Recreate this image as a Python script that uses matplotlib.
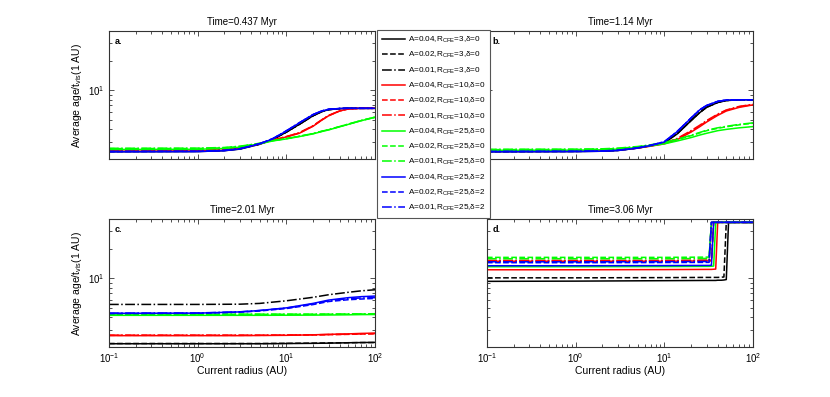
import matplotlib
matplotlib.use("Agg")
import matplotlib.pyplot as plt
from matplotlib.ticker import LogLocator, NullFormatter

plt.rcParams['font.family'] = ['Liberation Sans', 'DejaVu Sans']
plt.rcParams['mathtext.fontset'] = 'custom'
plt.rcParams['mathtext.rm'] = 'Liberation Sans'
plt.rcParams['mathtext.it'] = 'Liberation Sans:italic'

# legend labels / styles (12 runs)
labels = [
    "A=0.04,R$_{\\mathrm{CFE}}$=3,δ=0", "A=0.02,R$_{\\mathrm{CFE}}$=3,δ=0", "A=0.01,R$_{\\mathrm{CFE}}$=3,δ=0",
    "A=0.04,R$_{\\mathrm{CFE}}$=10,δ=0", "A=0.02,R$_{\\mathrm{CFE}}$=10,δ=0", "A=0.01,R$_{\\mathrm{CFE}}$=10,δ=0",
    "A=0.04,R$_{\\mathrm{CFE}}$=25,δ=0", "A=0.02,R$_{\\mathrm{CFE}}$=25,δ=0", "A=0.01,R$_{\\mathrm{CFE}}$=25,δ=0",
    "A=0.04,R$_{\\mathrm{CFE}}$=25,δ=2", "A=0.02,R$_{\\mathrm{CFE}}$=25,δ=2", "A=0.01,R$_{\\mathrm{CFE}}$=25,δ=2",
]
colors = ['k', 'k', 'k', 'r', 'r', 'r', '#00ff00', '#00ff00', '#00ff00', 'b', 'b', 'b']
styles = ['-', '--', '-.'] * 4

times = ["Time=0.437 Myr", "Time=1.14 Myr", "Time=2.01 Myr", "Time=3.06 Myr"]
letters = ["a.", "b.", "c.", "d."]

# panel a
r_a = [0.1, 1, 2, 3, 5, 7, 10, 14, 20, 25, 30, 40, 50, 70, 100]
age_a = [
    [2.37, 2.38, 2.43, 2.52, 2.82, 3.15, 3.75, 4.50, 5.50, 6.05, 6.35, 6.50, 6.55, 6.55, 6.55],
    [2.39, 2.40, 2.45, 2.54, 2.83, 3.16, 3.75, 4.50, 5.50, 6.05, 6.35, 6.50, 6.55, 6.55, 6.55],
    [2.41, 2.42, 2.47, 2.56, 2.84, 3.17, 3.76, 4.50, 5.50, 6.05, 6.35, 6.50, 6.55, 6.55, 6.55],
    [2.40, 2.41, 2.46, 2.56, 2.85, 3.10, 3.35, 3.65, 4.30, 4.95, 5.50, 6.15, 6.45, 6.55, 6.55],
    [2.42, 2.43, 2.48, 2.58, 2.86, 3.11, 3.37, 3.68, 4.33, 4.98, 5.52, 6.17, 6.46, 6.55, 6.55],
    [2.44, 2.45, 2.50, 2.60, 2.87, 3.12, 3.38, 3.70, 4.36, 5.00, 5.55, 6.18, 6.47, 6.55, 6.55],
    [2.50, 2.51, 2.56, 2.64, 2.85, 3.05, 3.20, 3.38, 3.60, 3.80, 3.95, 4.25, 4.50, 4.90, 5.30],
    [2.55, 2.56, 2.60, 2.68, 2.88, 3.07, 3.22, 3.40, 3.62, 3.82, 3.97, 4.27, 4.52, 4.92, 5.32],
    [2.57, 2.58, 2.62, 2.70, 2.89, 3.08, 3.23, 3.41, 3.63, 3.83, 3.98, 4.28, 4.53, 4.93, 5.33],
    [2.37, 2.38, 2.43, 2.53, 2.85, 3.20, 3.85, 4.65, 5.65, 6.15, 6.40, 6.52, 6.55, 6.55, 6.55],
    [2.38, 2.39, 2.44, 2.54, 2.86, 3.21, 3.86, 4.66, 5.65, 6.15, 6.40, 6.52, 6.55, 6.55, 6.55],
    [2.39, 2.40, 2.45, 2.55, 2.87, 3.22, 3.87, 4.67, 5.66, 6.15, 6.40, 6.52, 6.55, 6.55, 6.55],
]

# panel b
r_b = [0.1, 1, 2, 3, 5, 7, 10, 14, 20, 25, 30, 40, 50, 70, 100]
age_b = [
    [2.37, 2.38, 2.40, 2.44, 2.58, 2.72, 2.92, 3.60, 4.90, 5.90, 6.70, 7.50, 7.85, 8.00, 8.00],
    [2.38, 2.39, 2.41, 2.45, 2.59, 2.73, 2.93, 3.62, 4.92, 5.92, 6.72, 7.52, 7.86, 8.00, 8.00],
    [2.39, 2.40, 2.42, 2.46, 2.60, 2.74, 2.94, 3.64, 4.94, 5.94, 6.74, 7.54, 7.87, 8.00, 8.00],
    [2.40, 2.41, 2.43, 2.47, 2.58, 2.70, 2.85, 3.15, 3.75, 4.25, 4.75, 5.55, 6.15, 6.70, 7.10],
    [2.42, 2.43, 2.45, 2.49, 2.60, 2.72, 2.88, 3.20, 3.82, 4.33, 4.85, 5.65, 6.25, 6.80, 7.15],
    [2.44, 2.45, 2.47, 2.51, 2.62, 2.74, 2.90, 3.24, 3.88, 4.40, 4.92, 5.72, 6.30, 6.85, 7.20],
    [2.45, 2.46, 2.48, 2.52, 2.62, 2.72, 2.85, 3.05, 3.30, 3.50, 3.65, 3.88, 4.00, 4.15, 4.27],
    [2.49, 2.50, 2.52, 2.56, 2.66, 2.77, 2.92, 3.15, 3.45, 3.68, 3.88, 4.10, 4.25, 4.45, 4.62],
    [2.51, 2.52, 2.54, 2.58, 2.68, 2.79, 2.94, 3.18, 3.48, 3.72, 3.92, 4.15, 4.30, 4.50, 4.66],
    [2.37, 2.38, 2.40, 2.44, 2.58, 2.74, 2.98, 3.80, 5.20, 6.30, 7.00, 7.70, 7.95, 8.00, 8.00],
    [2.38, 2.39, 2.41, 2.45, 2.59, 2.75, 2.99, 3.81, 5.21, 6.30, 7.00, 7.70, 7.95, 8.00, 8.00],
    [2.39, 2.40, 2.42, 2.46, 2.60, 2.76, 3.00, 3.82, 5.22, 6.31, 7.01, 7.70, 7.95, 8.00, 8.00],
]

# panel c
r_c = [0.1, 1, 3, 5, 10, 20, 30, 50, 70, 100]
age_c = [
    [2.16, 2.16, 2.16, 2.16, 2.17, 2.18, 2.19, 2.21, 2.22, 2.23],
    [2.17, 2.17, 2.17, 2.17, 2.18, 2.19, 2.20, 2.21, 2.22, 2.22],
    [5.42, 5.42, 5.45, 5.55, 5.90, 6.40, 6.80, 7.20, 7.45, 7.64],
    [2.61, 2.61, 2.61, 2.62, 2.63, 2.66, 2.69, 2.72, 2.75, 2.77],
    [2.63, 2.63, 2.63, 2.63, 2.64, 2.65, 2.67, 2.69, 2.71, 2.72],
    [2.64, 2.64, 2.64, 2.64, 2.65, 2.66, 2.68, 2.70, 2.72, 2.74],
    [4.20, 4.20, 4.20, 4.20, 4.21, 4.22, 4.23, 4.25, 4.27, 4.28],
    [4.30, 4.30, 4.30, 4.30, 4.30, 4.30, 4.31, 4.32, 4.33, 4.33],
    [4.32, 4.32, 4.32, 4.32, 4.32, 4.32, 4.33, 4.34, 4.35, 4.36],
    [4.40, 4.42, 4.55, 4.70, 5.00, 5.55, 6.00, 6.35, 6.50, 6.59],
    [4.38, 4.40, 4.52, 4.65, 4.92, 5.40, 5.80, 6.05, 6.15, 6.24],
    [4.42, 4.44, 4.56, 4.70, 4.98, 5.48, 5.90, 6.20, 6.30, 6.35],
]

# panel d
r_d = [0.1, 1, 10, 30, 32, 34, 36, 38, 40, 44, 47, 50, 53, 100]
age_d = [
    [9.30, 9.35, 9.45, 9.50, 9.50, 9.50, 9.50, 9.50, 9.55, 9.55, 9.60, 9.70, 37.0, 37.0],
    [10.1, 10.1, 10.15, 10.2, 10.2, 10.2, 10.2, 10.2, 10.2, 10.25, 10.3, 37.0, 37.0, 37.0],
    [15.0, 15.0, 15.0, 15.1, 15.1, 37.0, 37.0, 37.0, 37.0, 37.0, 37.0, 37.0, 37.0, 37.0],
    [12.2, 12.2, 12.25, 12.3, 12.3, 12.3, 12.35, 12.4, 37.0, 37.0, 37.0, 37.0, 37.0, 37.0],
    [14.9, 14.9, 14.9, 15.0, 15.0, 15.0, 37.0, 37.0, 37.0, 37.0, 37.0, 37.0, 37.0, 37.0],
    [15.2, 15.2, 15.2, 15.3, 15.3, 15.3, 37.0, 37.0, 37.0, 37.0, 37.0, 37.0, 37.0, 37.0],
    [13.1, 13.1, 13.15, 13.2, 13.2, 13.25, 13.3, 37.0, 37.0, 37.0, 37.0, 37.0, 37.0, 37.0],
    [16.3, 16.3, 16.3, 16.4, 16.4, 37.0, 37.0, 37.0, 37.0, 37.0, 37.0, 37.0, 37.0, 37.0],
    [15.8, 15.8, 15.8, 15.9, 15.9, 37.0, 37.0, 37.0, 37.0, 37.0, 37.0, 37.0, 37.0, 37.0],
    [13.4, 13.4, 13.45, 13.5, 13.5, 13.55, 37.0, 37.0, 37.0, 37.0, 37.0, 37.0, 37.0, 37.0],
    [14.4, 14.4, 14.45, 14.5, 14.5, 37.0, 37.0, 37.0, 37.0, 37.0, 37.0, 37.0, 37.0, 37.0],
    [14.7, 14.7, 14.75, 14.8, 14.8, 37.0, 37.0, 37.0, 37.0, 37.0, 37.0, 37.0, 37.0, 37.0],
]

radii = [r_a, r_b, r_c, r_d]
ages = [age_a, age_b, age_c, age_d]

fig = plt.figure(figsize=(8.3, 3.97), dpi=100)
# left, bottom, width, height
boxes = [
    [0.1313, 0.5995, 0.3205, 0.3224],
    [0.5867, 0.5995, 0.3205, 0.3224],
    [0.1313, 0.1259, 0.3205, 0.3224],
    [0.5867, 0.1259, 0.3205, 0.3224],
]

handles = []
for p in range(4):
    ax = fig.add_axes(boxes[p])
    for i in range(12):
        ln, = ax.plot(radii[p], ages[p][i], color=colors[i], linestyle=styles[i], lw=1.1)
        if p == 0:
            handles.append(ln)
    ax.set_xscale('log')
    ax.set_yscale('log')
    ax.set_xlim(0.1, 100)
    ax.set_ylim(2, 40)
    ax.xaxis.set_major_locator(LogLocator(base=10, numticks=10))
    ax.xaxis.set_minor_locator(LogLocator(base=10, subs=range(2, 10), numticks=20))
    ax.yaxis.set_major_locator(LogLocator(base=10, numticks=10))
    ax.yaxis.set_minor_locator(LogLocator(base=10, subs=range(2, 10), numticks=20))
    ax.xaxis.set_minor_formatter(NullFormatter())
    ax.yaxis.set_minor_formatter(NullFormatter())
    ax.tick_params(which='both', direction='in', top=True, right=True, labelsize=7,
                   color='#333333', width=0.6)
    ax.tick_params(which='major', length=3.5, pad=3)
    ax.tick_params(which='minor', length=2)
    for s in ax.spines.values():
        s.set_color('#333333')
        s.set_linewidth(0.8)
    ax.set_title(times[p], fontsize=7, pad=4)
    ax.text(0.02, 0.95, letters[p], transform=ax.transAxes, fontsize=6.5,
            fontweight='bold', va='top', ha='left')
    if p in (0, 1):
        ax.xaxis.set_major_formatter(NullFormatter())
    else:
        ax.set_xlabel("Current radius (AU)", fontsize=7.5, labelpad=1)
    if p in (1, 3):
        ax.yaxis.set_major_formatter(NullFormatter())
    else:
        ax.set_ylabel("Average age/t$_{\\mathrm{vis}}$(1 AU)", fontsize=7.5, labelpad=3)

leg = fig.legend(handles, labels, loc='upper left', bbox_to_anchor=(0.4542, 0.9244),
                 fontsize=5.9, handlelength=2.8, labelspacing=0.62, borderpad=0.6,
                 handletextpad=0.35, borderaxespad=0, fancybox=False, framealpha=1)
leg.get_frame().set_edgecolor('#555555')
leg.get_frame().set_linewidth(0.8)

fig.savefig("out.png", dpi=100)
